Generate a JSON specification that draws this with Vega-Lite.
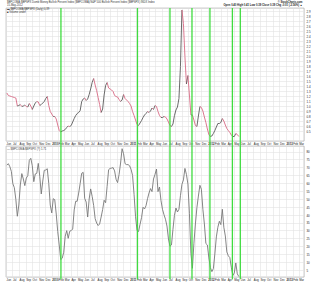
{
"$schema": "https://vega.github.io/schema/vega-lite/v6.json",
"padding": {"left": 4, "top": 1, "right": 0, "bottom": 0},
"background": "white",
"spacing": 5,
"bounds": "flush",
"config": {
  "view": {"stroke": "#9a9a9a", "strokeWidth": 0.6},
  "font": "Liberation Sans",
  "axis": {"labelFont": "Liberation Sans", "labelColor": "#222", "ticks": false, "domain": false, "gridColor": "#e2e2e2", "gridWidth": 0.6, "title": null, "labelOverlap": false}
},
"datasets": {
  "ratio": [
{"d":"2009-06-05","a":1.26,"b":71.4},{"d":"2009-06-12","a":1.21,"b":72.3},{"d":"2009-06-19","a":1.20,"b":70.4},{"d":"2009-06-26","a":1.19,"b":67.4},
{"d":"2009-07-03","a":1.18,"b":59.6},{"d":"2009-07-10","a":1.17,"b":57.1},{"d":"2009-07-17","a":1.16,"b":49.7},{"d":"2009-07-24","a":1.00,"b":39.0},{"d":"2009-07-31","a":1.01,"b":46.1},
{"d":"2009-08-07","a":1.03,"b":58.8},{"d":"2009-08-14","a":0.99,"b":66.0},{"d":"2009-08-21","a":1.00,"b":62.6},{"d":"2009-08-28","a":1.02,"b":58.4},
{"d":"2009-09-04","a":0.99,"b":63.2},{"d":"2009-09-11","a":0.98,"b":64.7},{"d":"2009-09-18","a":1.05,"b":74.4},{"d":"2009-09-25","a":1.00,"b":75.7},
{"d":"2009-10-02","a":0.93,"b":71.0},{"d":"2009-10-09","a":1.00,"b":60.9},{"d":"2009-10-16","a":1.06,"b":65.8},{"d":"2009-10-23","a":1.09,"b":66.2},{"d":"2009-10-30","a":1.08,"b":72.5},
{"d":"2009-11-06","a":1.01,"b":64.3},{"d":"2009-11-13","a":1.03,"b":53.1},{"d":"2009-11-20","a":1.06,"b":61.3},{"d":"2009-11-27","a":1.09,"b":68.1},
{"d":"2009-12-04","a":1.15,"b":68.3},{"d":"2009-12-11","a":1.19,"b":69.1},{"d":"2009-12-18","a":1.01,"b":59.8},{"d":"2009-12-25","a":0.89,"b":46.1},
{"d":"2010-01-01","a":0.84,"b":41.1},{"d":"2010-01-08","a":0.79,"b":50.1},{"d":"2010-01-15","a":0.79,"b":49.5},{"d":"2010-01-22","a":0.74,"b":40.4},{"d":"2010-01-29","a":0.62,"b":29.3},
{"d":"2010-02-05","a":0.51,"b":20.8},{"d":"2010-02-12","a":0.48,"b":11.5},{"d":"2010-02-19","a":0.50,"b":12.4},{"d":"2010-02-26","a":0.51,"b":16.2},
{"d":"2010-03-05","a":0.53,"b":26.3},{"d":"2010-03-12","a":0.57,"b":29.9},{"d":"2010-03-19","a":0.60,"b":25.0},{"d":"2010-03-26","a":0.59,"b":29.5},
{"d":"2010-04-02","a":0.61,"b":29.9},{"d":"2010-04-09","a":0.68,"b":30.9},{"d":"2010-04-16","a":0.75,"b":43.0},{"d":"2010-04-23","a":0.81,"b":48.5},{"d":"2010-04-30","a":0.85,"b":48.5},
{"d":"2010-05-07","a":0.87,"b":53.7},{"d":"2010-05-14","a":0.91,"b":59.8},{"d":"2010-05-21","a":1.09,"b":66.2},{"d":"2010-05-28","a":1.14,"b":66.8},
{"d":"2010-06-04","a":1.16,"b":50.4},{"d":"2010-06-11","a":1.11,"b":48.0},{"d":"2010-06-18","a":1.14,"b":38.5},{"d":"2010-06-25","a":1.23,"b":49.9},
{"d":"2010-07-02","a":1.34,"b":56.3},{"d":"2010-07-09","a":1.47,"b":51.6},{"d":"2010-07-16","a":1.55,"b":45.9},{"d":"2010-07-23","a":1.42,"b":37.5},{"d":"2010-07-30","a":1.31,"b":34.7},
{"d":"2010-08-06","a":1.17,"b":33.1},{"d":"2010-08-13","a":1.03,"b":34.1},{"d":"2010-08-20","a":0.87,"b":38.5},{"d":"2010-08-27","a":0.94,"b":43.2},
{"d":"2010-09-03","a":1.22,"b":49.1},{"d":"2010-09-10","a":1.41,"b":47.6},{"d":"2010-09-17","a":1.47,"b":57.9},{"d":"2010-09-24","a":1.36,"b":68.5},
{"d":"2010-10-01","a":1.34,"b":69.3},{"d":"2010-10-08","a":1.32,"b":69.5},{"d":"2010-10-15","a":1.29,"b":69.8},{"d":"2010-10-22","a":1.21,"b":67.7},{"d":"2010-10-29","a":1.19,"b":62.4},
{"d":"2010-11-05","a":1.18,"b":60.3},{"d":"2010-11-12","a":1.13,"b":65.5},{"d":"2010-11-19","a":1.09,"b":72.7},{"d":"2010-11-26","a":1.12,"b":81.8},
{"d":"2010-12-03","a":1.23,"b":78.6},{"d":"2010-12-10","a":1.15,"b":72.3},{"d":"2010-12-17","a":1.12,"b":71.7},{"d":"2010-12-24","a":1.09,"b":71.7},{"d":"2010-12-31","a":1.05,"b":71.0},
{"d":"2011-01-07","a":1.00,"b":68.7},{"d":"2011-01-14","a":0.89,"b":64.9},{"d":"2011-01-21","a":0.81,"b":52.9},{"d":"2011-01-28","a":0.72,"b":38.7},
{"d":"2011-02-04","a":0.63,"b":29.9},{"d":"2011-02-11","a":0.61,"b":29.3},{"d":"2011-02-18","a":0.66,"b":33.9},{"d":"2011-02-25","a":0.71,"b":38.1},
{"d":"2011-03-04","a":0.77,"b":44.7},{"d":"2011-03-11","a":0.82,"b":43.6},{"d":"2011-03-18","a":0.85,"b":45.7},{"d":"2011-03-25","a":0.89,"b":50.1},
{"d":"2011-04-01","a":0.87,"b":53.7},{"d":"2011-04-08","a":0.90,"b":56.5},{"d":"2011-04-15","a":0.96,"b":54.6},{"d":"2011-04-22","a":0.93,"b":62.6},{"d":"2011-04-29","a":1.01,"b":65.5},
{"d":"2011-05-06","a":0.99,"b":68.9},{"d":"2011-05-13","a":0.89,"b":54.6},{"d":"2011-05-20","a":0.81,"b":57.5},{"d":"2011-05-27","a":0.77,"b":48.9},
{"d":"2011-06-03","a":0.77,"b":43.4},{"d":"2011-06-10","a":0.79,"b":40.0},{"d":"2011-06-17","a":0.78,"b":37.1},{"d":"2011-06-24","a":0.74,"b":32.8},
{"d":"2011-07-01","a":0.68,"b":24.6},{"d":"2011-07-08","a":0.61,"b":20.0},{"d":"2011-07-15","a":0.59,"b":20.8},{"d":"2011-07-22","a":0.64,"b":30.7},{"d":"2011-07-29","a":0.81,"b":39.6},
{"d":"2011-08-05","a":0.92,"b":44.2},{"d":"2011-08-12","a":0.98,"b":41.7},{"d":"2011-08-19","a":1.15,"b":43.4},{"d":"2011-08-26","a":1.79,"b":52.0},
{"d":"2011-09-02","a":2.92,"b":59.2},{"d":"2011-09-09","a":2.65,"b":62.0},{"d":"2011-09-16","a":1.99,"b":69.3},{"d":"2011-09-23","a":1.44,"b":65.5},{"d":"2011-09-30","a":1.61,"b":59.4},
{"d":"2011-10-07","a":1.22,"b":40.9},{"d":"2011-10-14","a":0.82,"b":15.5},{"d":"2011-10-21","a":0.82,"b":6.0},{"d":"2011-10-28","a":0.72,"b":21.9},
{"d":"2011-11-04","a":0.61,"b":34.1},{"d":"2011-11-11","a":0.59,"b":44.4},{"d":"2011-11-18","a":0.80,"b":51.8},{"d":"2011-11-25","a":0.99,"b":58.6},
{"d":"2011-12-02","a":0.97,"b":56.1},{"d":"2011-12-09","a":0.90,"b":43.4},{"d":"2011-12-16","a":0.78,"b":34.1},{"d":"2011-12-23","a":0.67,"b":21.7},{"d":"2011-12-30","a":0.54,"b":20.8},
{"d":"2012-01-06","a":0.43,"b":12.6},{"d":"2012-01-13","a":0.39,"b":6.5},{"d":"2012-01-20","a":0.40,"b":3.9},{"d":"2012-01-27","a":0.45,"b":5.8},
{"d":"2012-02-03","a":0.51,"b":15.1},{"d":"2012-02-10","a":0.58,"b":25.9},{"d":"2012-02-17","a":0.65,"b":32.0},{"d":"2012-02-24","a":0.65,"b":35.8},
{"d":"2012-03-02","a":0.67,"b":33.7},{"d":"2012-03-09","a":0.75,"b":43.4},{"d":"2012-03-16","a":0.70,"b":32.0},{"d":"2012-03-23","a":0.62,"b":26.5},{"d":"2012-03-30","a":0.55,"b":16.4},
{"d":"2012-04-06","a":0.51,"b":13.9},{"d":"2012-04-13","a":0.47,"b":12.8},{"d":"2012-04-20","a":0.42,"b":6.7},{"d":"2012-04-27","a":0.39,"b":1.4},
{"d":"2012-05-04","a":0.39,"b":3.1},{"d":"2012-05-11","a":0.45,"b":9.4},{"d":"2012-05-18","a":0.43,"b":2.5},{"d":"2012-05-25","a":0.39,"b":0.8}
  ],
  "events": [
{"d":"2010-02-13"},{"d":"2011-02-06"},{"d":"2011-07-08"},{"d":"2011-10-19"},{"d":"2012-01-11"},{"d":"2012-04-25"},{"d":"2012-06-01"}
  ],
  "lefttext": [
{"t":"$BPCOMA:$BPSPX Dumb Money Bullish Percent Index ($BPCOMA)/S&P 500 Bullish Percent Index ($BPSPX) INDX Index","d":"2009-06-01","v":3.07},
{"t":"15-May-2012","d":"2009-06-01","v":3.01},
{"t":"▬ $BPCOMA:$BPSPX (Daily) 0.39","d":"2009-06-01","v":2.93},
{"t":"■ Volume undef","d":"2009-06-01","v":2.88}
  ],
  "righttext": [
{"t":"© StockCharts.com","d":"2013-03-26","v":3.07},
{"t":"Open 0.40  High 0.41  Low 0.39  Close 0.39  Chg -0.01 (-2.56%) ▲","d":"2013-03-26","v":3.01}
  ],
  "bottext": [
{"t":"— $BPCOMA:$BPSPX (?) 1.71","d":"2009-06-01","v":81.8}
  ]
},
"vconcat": [
{
  "width": 298, "height": 133,
  "layer": [
    {
      "data": {"name": "ratio", "format": {"parse": {"d": "date"}}},
      "transform": [
        {"window": [{"op": "lag", "field": "d", "as": "pd"}, {"op": "lag", "field": "a", "as": "pa"}], "sort": [{"field": "d", "order": "ascending"}]},
        {"filter": "datum.pa != null"}
      ],
      "mark": {"type": "rule", "strokeWidth": 0.9},
      "encoding": {
        "x": {"field": "pd", "type": "temporal",
              "scale": {"domain": [{"year": 2009, "month": 6, "date": 1}, {"year": 2013, "month": 3, "date": 26}]},
              "axis": {"orient": "bottom", "tickCount": {"interval": "month", "step": 1}, "grid": true, "labelOverlap": false,
                       "labelExpr": "month(datum.value)===0 ? timeFormat(datum.value,'%Y') : timeFormat(datum.value,'%b')",
                       "labelFontSize": 2.8, "labelAlign": "left", "labelPadding": 1, "labelFlush": false,
                       "labelFontWeight": {"condition": {"test": "month(datum.value)===0", "value": "bold"}, "value": "normal"}}},
        "x2": {"field": "d"},
        "y": {"field": "pa", "type": "quantitative",
              "scale": {"domain": [0.3, 2.96], "nice": false, "zero": false},
              "axis": {"orient": "right", "values": [0.5,0.6,0.7,0.8,0.9,1.0,1.1,1.2,1.3,1.4,1.5,1.6,1.7,1.8,1.9,2.0,2.1,2.2,2.3,2.4,2.5,2.6,2.7,2.8,2.9],
                       "labelOverlap": false, "labelSeparation": 0, "format": ".1f", "grid": true, "labelFontSize": 2.9, "labelPadding": 2}},
        "y2": {"field": "a"},
        "color": {"condition": {"test": "datum.a < datum.pa", "value": "#d86a85"}, "value": "#5a5a5a"}
      }
    },
    {
      "data": {"name": "events", "format": {"parse": {"d": "date"}}},
      "mark": {"type": "rule", "color": "#3fdc3f", "strokeWidth": 1.3, "clip": false},
      "encoding": {"x": {"field": "d", "type": "temporal"},
        "y": {"field": "top", "type": "quantitative",
              "axis": {"orient": "right", "values": [0.5,0.6,0.7,0.8,0.9,1.0,1.1,1.2,1.3,1.4,1.5,1.6,1.7,1.8,1.9,2.0,2.1,2.2,2.3,2.4,2.5,2.6,2.7,2.8,2.9],
                       "labelOverlap": false, "labelSeparation": 0, "format": ".1f", "grid": true, "labelFontSize": 2.9, "labelPadding": 2}},
        "y2": {"field": "bot"}},
      "transform": [{"calculate": "2.96", "as": "top"}, {"calculate": "0.2", "as": "bot"}]
    },
    {
      "data": {"name": "lefttext", "format": {"parse": {"d": "date"}}},
      "mark": {"type": "text", "align": "left", "baseline": "middle", "fontSize": 2.7, "color": "#333", "dx": 1},
      "encoding": {"x": {"field": "d", "type": "temporal"},
        "y": {"field": "v", "type": "quantitative",
              "axis": {"orient": "right", "values": [0.5,0.6,0.7,0.8,0.9,1.0,1.1,1.2,1.3,1.4,1.5,1.6,1.7,1.8,1.9,2.0,2.1,2.2,2.3,2.4,2.5,2.6,2.7,2.8,2.9],
                       "labelOverlap": false, "labelSeparation": 0, "format": ".1f", "grid": true, "labelFontSize": 2.9, "labelPadding": 2}},
        "text": {"field": "t"}}
    },
    {
      "data": {"name": "righttext", "format": {"parse": {"d": "date"}}},
      "mark": {"type": "text", "align": "right", "baseline": "middle", "fontSize": 2.7, "fontWeight": "bold", "color": "#222", "dx": -1.5},
      "encoding": {"x": {"field": "d", "type": "temporal"},
        "y": {"field": "v", "type": "quantitative",
              "axis": {"orient": "right", "values": [0.5,0.6,0.7,0.8,0.9,1.0,1.1,1.2,1.3,1.4,1.5,1.6,1.7,1.8,1.9,2.0,2.1,2.2,2.3,2.4,2.5,2.6,2.7,2.8,2.9],
                       "labelOverlap": false, "labelSeparation": 0, "format": ".1f", "grid": true, "labelFontSize": 2.9, "labelPadding": 2}},
        "text": {"field": "t"}}
    }
  ]
},
{
  "width": 298, "height": 131,
  "layer": [
    {
      "data": {"name": "ratio", "format": {"parse": {"d": "date"}}},
      "mark": {"type": "line", "color": "#777777", "strokeWidth": 0.9},
      "encoding": {
        "x": {"field": "d", "type": "temporal",
              "scale": {"domain": [{"year": 2009, "month": 6, "date": 1}, {"year": 2013, "month": 3, "date": 26}]},
              "axis": {"orient": "bottom", "tickCount": {"interval": "month", "step": 1}, "grid": true, "labelOverlap": false,
                       "labelExpr": "month(datum.value)===0 ? timeFormat(datum.value,'%Y') : timeFormat(datum.value,'%b')",
                       "labelFontSize": 2.8, "labelAlign": "left", "labelPadding": 1, "labelFlush": false,
                       "labelFontWeight": {"condition": {"test": "month(datum.value)===0", "value": "bold"}, "value": "normal"}}},
        "y": {"field": "b", "type": "quantitative",
              "scale": {"domain": [0.5, 83.5], "nice": false, "zero": false},
              "axis": {"orient": "right", "values": [5,10,15,20,25,30,35,40,45,50,55,60,65,70,75,80], "labelOverlap": false, "labelSeparation": 0, "grid": true, "labelFontSize": 2.9, "labelPadding": 2}}
      }
    },
    {
      "data": {"name": "events", "format": {"parse": {"d": "date"}}},
      "mark": {"type": "rule", "color": "#3fdc3f", "strokeWidth": 1.3, "clip": false},
      "encoding": {"x": {"field": "d", "type": "temporal"},
        "y": {"field": "top", "type": "quantitative",
              "axis": {"orient": "right", "values": [5,10,15,20,25,30,35,40,45,50,55,60,65,70,75,80], "labelOverlap": false, "labelSeparation": 0, "grid": true, "labelFontSize": 2.9, "labelPadding": 2}},
        "y2": {"field": "bot"}},
      "transform": [{"calculate": "83.5", "as": "top"}, {"calculate": "-1", "as": "bot"}]
    },
    {
      "data": {"name": "bottext", "format": {"parse": {"d": "date"}}},
      "mark": {"type": "text", "align": "left", "baseline": "middle", "fontSize": 2.8, "color": "#444", "dx": 1},
      "encoding": {"x": {"field": "d", "type": "temporal"},
        "y": {"field": "v", "type": "quantitative",
              "axis": {"orient": "right", "values": [5,10,15,20,25,30,35,40,45,50,55,60,65,70,75,80], "labelOverlap": false, "labelSeparation": 0, "grid": true, "labelFontSize": 2.9, "labelPadding": 2}},
        "text": {"field": "t"}}
    }
  ]
}
]
}
